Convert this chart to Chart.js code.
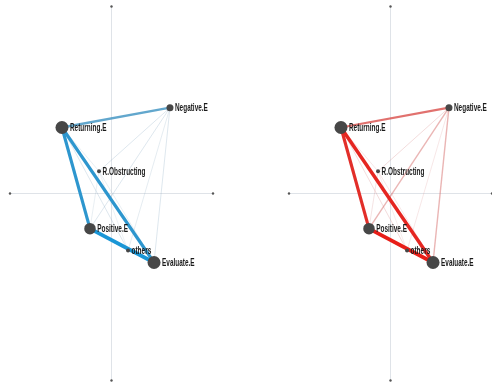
<!DOCTYPE html>
<html>
<head>
<meta charset="utf-8">
<script src="https://cdn.jsdelivr.net/npm/chart.js@4.4.0/dist/chart.umd.min.js"></script>
<style>
  html, body { margin: 0; padding: 0; background: #fff; }
  #wrap { position: relative; width: 492px; height: 387px; overflow: hidden; }
  #wrap canvas { position: absolute; top: 0; }
</style>
</head>
<body>
<div id="wrap">
  <canvas id="left" width="279" height="387" style="left:0"></canvas>
  <canvas id="right" width="279" height="387" style="left:279px"></canvas>
</div>
<script>
// nodes of the network (coordinates in the plot's own -1..1 space)
const nodeNames = ['Returning.E', 'Negative.E', 'R.Obstructing', 'Positive.E', 'others', 'Evaluate.E'];
const nodeX = [-0.488, 0.576, -0.123, -0.212, 0.163, 0.419];
const nodeY = [0.353, 0.459, 0.119, -0.188, -0.305, -0.369];
const nodeWeight = [1.0, 0.4, 0.1, 0.85, 0.1, 1.0];

// edges (index into nodeNames) and their weights for each panel
const edgeFrom = [0, 0, 3, 0, 1, 1, 1, 1, 0, 0, 2, 2, 3, 2];
const edgeTo   = [3, 5, 5, 1, 3, 2, 4, 5, 4, 2, 3, 5, 4, 4];
const blueWeights = [0.8, 0.8, 1.0, 0.55, 0.1, 0.1, 0.08, 0.1, 0.1, 0.06, 0.06, 0.06, 0.08, 0.04];
const redWeights  = [0.8, 0.9, 1.0, 0.5, 0.25, 0.1, 0.06, 0.25, 0.1, 0.06, 0.08, 0.06, 0.08, 0.04];

const axisColor = '#dfe3e8';
const nodeColor = '#474747';

function edgeDatasets(weights, base, muted) {
    return weights.map((w, i) => {
        const c = base.map((v, k) => Math.round(v * w + muted[k] * (1 - w)));
        const a = Math.min(1, 0.12 + 1.3 * w);
        return {
            type: 'line',
            data: [
                { x: nodeX[edgeFrom[i]], y: nodeY[edgeFrom[i]] },
                { x: nodeX[edgeTo[i]], y: nodeY[edgeTo[i]] }
            ],
            borderColor: `rgba(${c.join(',')}, ${a.toFixed(2)})`,
            borderWidth: 0.6 + 3.2 * w,
            pointRadius: 0,
            order: 2 + (1 - w)
        };
    });
}

// label plugin: names to the right of each node, condensed bold
const nodeLabels = {
    id: 'nodeLabels',
    afterDatasetsDraw(chart) {
        const meta = chart.getDatasetMeta(chart.data.datasets.length - 1);
        const ctx = chart.ctx;
        ctx.save();
        ctx.font = "bold 11.5px 'Liberation Sans', Arial, sans-serif";
        ctx.fillStyle = '#1a1a1a';
        ctx.textBaseline = 'middle';
        meta.data.forEach((pt, i) => {
            const r = 1.5 + 5 * nodeWeight[i];
            ctx.save();
            ctx.translate(pt.x + r + 1.5, pt.y + 0.5);
            ctx.scale(0.56, 1);
            ctx.fillText(nodeNames[i], 0, 0);
            ctx.restore();
        });
        ctx.restore();
    }
};

function makeChart(id, weights, base, muted) {
    const datasets = [
        {
            type: 'line',
            data: [{ x: -1, y: 0 }, { x: 1, y: 0 }],
            borderColor: axisColor, borderWidth: 1,
            pointRadius: 1.2, pointBackgroundColor: '#555', pointBorderWidth: 0,
            order: 10
        },
        {
            type: 'line',
            data: [{ x: 0, y: -1 }, { x: 0, y: 1 }],
            borderColor: axisColor, borderWidth: 1,
            pointRadius: 1.2, pointBackgroundColor: '#555', pointBorderWidth: 0,
            order: 10
        },
        ...edgeDatasets(weights, base, muted),
        {
            type: 'scatter',
            data: nodeX.map((x, i) => ({ x: x, y: nodeY[i] })),
            pointRadius: nodeWeight.map(w => 1.5 + 5 * w),
            pointBackgroundColor: nodeColor,
            pointBorderWidth: 0,
            order: 0
        }
    ];
    return new Chart(document.getElementById(id), {
        type: 'scatter',
        data: { datasets: datasets },
        options: {
            responsive: false,
            animation: false,
            events: [],
            layout: { padding: { left: 10, right: 66, top: 5, bottom: 5 } },
            scales: {
                x: { type: 'linear', min: -1, max: 1, display: false },
                y: { type: 'linear', min: -1, max: 1, display: false }
            },
            plugins: { legend: { display: false }, tooltip: { enabled: false } },
            clip: false
        },
        plugins: [nodeLabels]
    });
}

makeChart('left', blueWeights, [26, 150, 214], [120, 150, 175]);
makeChart('right', redWeights, [232, 30, 24], [200, 110, 110]);
</script>
</body>
</html>
